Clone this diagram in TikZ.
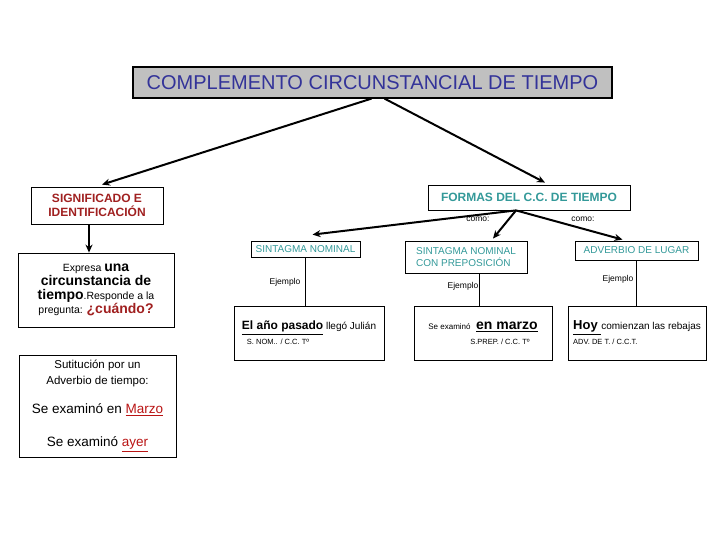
\documentclass[tikz,border=0pt]{standalone}
\usepackage{fontspec}
\setmainfont{Liberation Sans}
\usetikzlibrary{arrows.meta}
\definecolor{titlegray}{RGB}{192,192,192}
\definecolor{navytext}{RGB}{51,51,153}
\definecolor{darkred}{RGB}{160,32,32}
\definecolor{tealtext}{RGB}{51,153,153}
\definecolor{ulred}{RGB}{185,20,20}

\begin{document}
\begin{tikzpicture}[x=1pt, y=-1pt,
  box/.style={draw, line width=0.8pt, inner sep=0pt, align=center},
  formbox/.style={box, font=\fontsize{10}{12.5}\selectfont, text=tealtext},
  exbox/.style={box, minimum width=138pt, minimum height=54pt,
                font=\fontsize{10}{15}\selectfont},
  arr/.style={-{Stealth[length=8pt,width=7pt]}, line width=2pt},
  link/.style={line width=0.8pt},
  lbl/.style={inner sep=0pt, font=\fontsize{8.5}{10}\selectfont},
  ]
  \useasboundingbox (0,0) rectangle (720,540);

  \node[box, line width=1.2pt, fill=titlegray, minimum width=479pt, minimum height=31pt,
        font=\fontsize{20}{22}\selectfont, text=navytext] (title) at (372.5,82.5)
    {COMPLEMENTO CIRCUNSTANCIAL DE TIEMPO};

  \node[box, minimum width=132pt, minimum height=37pt,
        font=\bfseries\fontsize{12}{14}\selectfont, text=darkred] (sig) at (97,205.5)
    {SIGNIFICADO E\\IDENTIFICACIÓN};
  \node[box, minimum width=156pt, minimum height=74pt,
        font=\fontsize{10.5}{14}\selectfont] (expr) at (96,290)
    {Expresa {\bfseries\fontsize{14}{14}\selectfont una}\\
     {\bfseries\fontsize{14}{14}\selectfont circunstancia de}\\
     {\bfseries\fontsize{14}{14}\selectfont tiempo}.Responde a la\\
     pregunta: {\bfseries\fontsize{14}{14}\selectfont\color{darkred}¿cuándo?}};
  \node[box, minimum width=157pt, minimum height=102pt,
        font=\fontsize{11.5}{16}\selectfont] (sust) at (97.5,406)
    {Sutitución por un\\
     Adverbio de tiempo:\\[13pt]
     {\fontsize{13.5}{16}\selectfont Se examinó en \textcolor{ulred}{\underline{Marzo}}}\\[17pt]
     {\fontsize{13.5}{16}\selectfont Se examinó \textcolor{ulred}{\underline{ayer}}}};

  \node[box, minimum width=202pt, minimum height=25pt,
        font=\bfseries\fontsize{12}{14}\selectfont, text=tealtext] (formas) at (529,197.5)
    {FORMAS DEL C.C. DE TIEMPO};
  \coordinate (fork) at ([xshift=-13pt]formas.south);

  \node[formbox, minimum width=109pt, minimum height=16pt] (sn) at (305.5,249)
    {SINTAGMA NOMINAL};
  \node[formbox, align=left, minimum width=122pt, minimum height=32pt] (sncp) at (466,257)
    {SINTAGMA NOMINAL\\CON PREPOSICIÓN};
  \node[formbox, minimum width=123pt, minimum height=19pt] (adv) at (636.5,250.5)
    {ADVERBIO DE LUGAR};

  \node[exbox, align=left, minimum width=150pt] (ex1) at (309,333)
    {\underline{\bfseries\fontsize{12}{15}\selectfont El año pasado} llegó Julián\\
     \hspace*{5pt}{\fontsize{7.5}{8}\selectfont S. NOM.. / C.C. Tº}};
  \node[exbox, align=right] (ex2) at (483,333)
    {{\fontsize{8}{9}\selectfont Se examinó}\ \ \underline{\bfseries\fontsize{14}{15}\selectfont en marzo}\\
     {\fontsize{7.5}{8}\selectfont S.PREP. / C.C. Tº}\hspace*{8pt}};
  \node[exbox, align=left] (ex3) at (637,333)
    {\underline{\bfseries\fontsize{13}{15}\selectfont Hoy }comienzan las rebajas\\
     {\fontsize{7.5}{8}\selectfont ADV. DE T. / C.C.T.}};

  \node[lbl] (como1) at (478,219) {como:};
  \node[lbl] (como2) at (583,219) {como:};
  \node[lbl] (ej1) at (285,282) {Ejemplo};
  \node[lbl] (ej2) at (463,286) {Ejemplo};
  \node[lbl] (ej3) at (618,279) {Ejemplo};

  \draw[arr] ([xshift=-1pt]title.south) -- ([xshift=5pt,yshift=2pt]sig.north);
  \draw[arr] ([xshift=12pt]title.south) -- ([xshift=16pt,yshift=2pt]formas.north);
  \draw[arr] ([xshift=-8pt]sig.south) -- ([xshift=-7pt]expr.north);
  \draw[arr] (fork) -- ([xshift=7pt,yshift=6pt]sn.north);
  \draw[arr] (fork) -- ([xshift=27pt,yshift=2pt]sncp.north);
  \draw[arr] (fork) -- ([xshift=-14pt,yshift=1pt]adv.north);

  \draw[link] (sn.south) -- (sn.south |- ex1.north);
  \draw[link] ([xshift=13pt]sncp.south) -- ([xshift=13pt]sncp.south |- ex2.north);
  \draw[link] (adv.south) -- (adv.south |- ex3.north);
\end{tikzpicture}
\end{document}
